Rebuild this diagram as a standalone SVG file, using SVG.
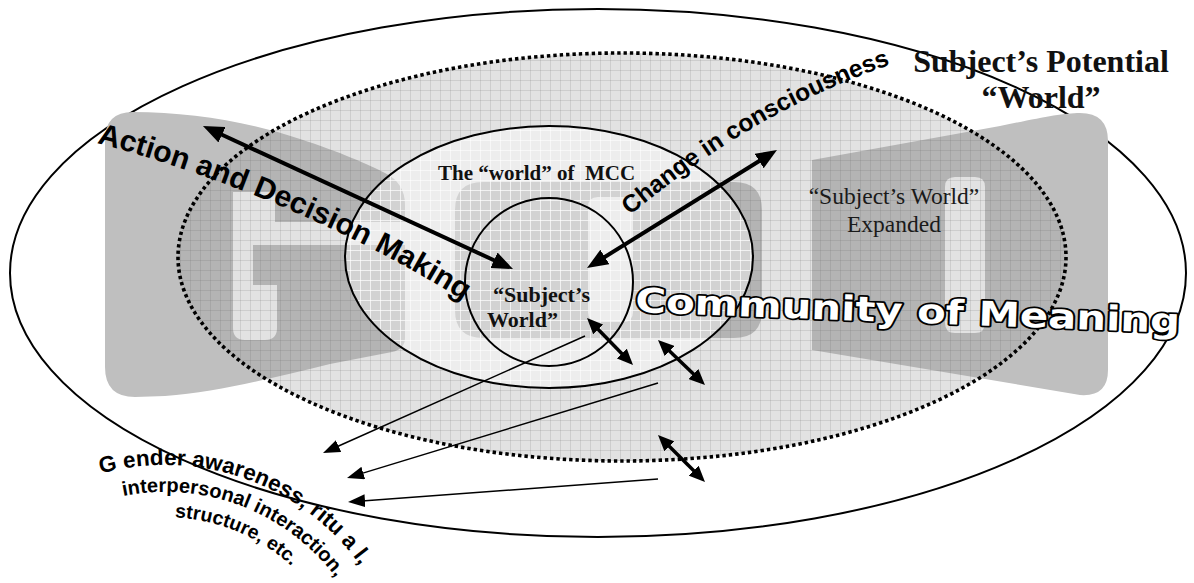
<svg xmlns="http://www.w3.org/2000/svg" width="1194" height="583" viewBox="0 0 1194 583">
  <style>
    .ring { fill: none; stroke: #000; stroke-width: 2; }
    .dots { fill: none; stroke: #000; stroke-width: 3.6; stroke-dasharray: 3.4 3; }
    .serifB { font-family: "Liberation Serif", "Times New Roman", serif; font-weight: bold; fill: #111; }
    .serif { font-family: "Liberation Serif", "Times New Roman", serif; fill: #1a1a1a; }
    .sansB { font-family: "Liberation Sans", Arial, sans-serif; font-weight: bold; fill: #000; }
    .thick { stroke: #000; stroke-width: 4; fill: none; }
    .mid { stroke: #000; stroke-width: 3.5; fill: none; }
    .thin { stroke: #000; stroke-width: 1.5; fill: none; }
    .letters { fill: #bfbfbf; fill-rule: evenodd; }
  </style>
  <defs>
    <pattern id="grid" width="10" height="10" patternUnits="userSpaceOnUse">
      <path d="M0.5,0 V10 M0,0.5 H10" stroke="rgba(90,90,90,0.15)" stroke-width="1" fill="none"/>
    </pattern>
    <pattern id="gridLight" width="10" height="10" patternUnits="userSpaceOnUse">
      <path d="M0.5,0 V10 M0,0.5 H10" stroke="rgba(255,255,255,0.75)" stroke-width="1" fill="none"/>
    </pattern>
    <marker id="headBig" viewBox="0 0 21 17" refX="3" refY="8.5" markerWidth="21" markerHeight="17" markerUnits="userSpaceOnUse" orient="auto-start-reverse">
      <path d="M0,0 L21,8.5 L0,17 Z" fill="#000"/>
    </marker>
    <marker id="headMid" viewBox="0 0 16 14" refX="3" refY="7" markerWidth="16" markerHeight="14" markerUnits="userSpaceOnUse" orient="auto-start-reverse">
      <path d="M0,0 L16,7 L0,14 Z" fill="#000"/>
    </marker>
    <marker id="headThin" viewBox="0 0 17 13" refX="3" refY="6.5" markerWidth="17" markerHeight="13" markerUnits="userSpaceOnUse" orient="auto-start-reverse">
      <path d="M0,0 L17,6.5 L0,13 Z" fill="#000"/>
    </marker>
    <path id="pathAction" d="M97,143 C175,163 330,215 470,305"/>
    <path id="pathChange" d="M630,215 C680,175 760,110 892,64"/>
    <path id="pathG1" d="M100.9,473.7 A240,240 0 0 1 390.5,622.9"/>
    <path id="pathG2" d="M123.2,496 A213,213 0 0 1 374.8,668"/>
    <path id="pathG3" d="M174.8,517.3 A188,188 0 0 1 350.1,672.4"/>
  </defs>

  <rect width="1194" height="583" fill="#fff"/>

  <!-- outermost world -->
  <g id="potential-world">
    <ellipse cx="598" cy="273" rx="588" ry="264" fill="#fff" stroke="#000" stroke-width="2"/>
  </g>

  <!-- large grey backdrop lettering -->
  <g id="god-backdrop" class="letters">
    <path d="M133,112 C190,112 250,122 300,139 C340,152 370,165 385,173 Q405,183 405,205 L405,338 Q405,349 392,352 L330,364 C280,376 220,392 165,396 L135,397 Q105,397 105,367 L105,140 Q105,112 133,112 Z
             M233,192 L275,192 L275,222 L405,222 L405,245 L253,245 L253,285 L277,285 L277,328 Q277,340 265,340 L245,340 Q233,340 233,328 Z"/>
    <path d="M483,182 L734,182 Q762,182 762,210 L762,310 Q762,338 734,338 L483,338 Q455,338 455,310 L455,210 Q455,182 483,182 Z
             M598,197 L623,197 Q633,197 633,207 L633,312 Q633,322 623,322 L598,322 Q588,322 588,312 L588,207 Q588,197 598,197 Z"/>
    <path d="M812,160 L1000,126 C1040,118 1062,113 1080,113 Q1108,113 1108,141 L1108,370 Q1108,397 1080,395 L812,350 Z
             M955,177 L975,177 Q985,177 985,187 L985,323 Q985,333 975,333 L955,333 Q945,333 945,323 L945,187 Q945,177 955,177 Z"/>
  </g>

  <!-- community of meaning -->
  <g id="community">
    <ellipse cx="622" cy="257" rx="444" ry="204" fill="rgba(156,156,156,0.29)"/>
    <ellipse cx="622" cy="257" rx="444" ry="204" fill="url(#grid)"/>
    <ellipse class="dots" cx="622" cy="257" rx="444" ry="204"/>
    <text class="serif" font-size="23.5" text-anchor="middle"><tspan x="894" y="204">“Subject’s World”</tspan><tspan x="894" y="232">Expanded</tspan></text>
  </g>

  <!-- world of MCC -->
  <g id="mcc-world">
    <ellipse cx="549" cy="257" rx="204" ry="131" fill="rgba(255,255,255,0.4)"/>
    <ellipse cx="549" cy="257" rx="204" ry="131" fill="url(#gridLight)"/>
    <ellipse class="ring" cx="549" cy="257" rx="204" ry="131"/>
    <text class="serifB" font-size="21" x="438" y="180" style="white-space:pre">The “world” of  MCC</text>
  </g>

  <!-- subject's world -->
  <g id="subject-world">
    <circle class="ring" cx="549" cy="282" r="84"/>
    <text class="serifB" font-size="22"><tspan x="493" y="302">“Subject’s</tspan><tspan x="487" y="327">World”</tspan></text>
  </g>

  <g id="potential-label">
    <text class="serifB" font-size="32" text-anchor="middle"><tspan x="1041" y="72">Subject’s Potential</tspan><tspan x="1041" y="108">“World”</tspan></text>
  </g>

  <g id="community-label">
    <text x="635" y="312" transform="rotate(2.2 635 312)" textLength="545" lengthAdjust="spacingAndGlyphs"
          font-family="'DejaVu Sans', Verdana, sans-serif" font-weight="bold" font-size="34"
          fill="#fff" stroke="#000" stroke-width="3.5" stroke-linejoin="round" paint-order="stroke">Community of Meaning</text>
  </g>

  <!-- everyday practice -->
  <g id="practice">
    <text class="sansB" font-size="22.5"><textPath href="#pathG1">G ender awareness, ritu a l,</textPath></text>
    <text class="sansB" font-size="20"><textPath href="#pathG2">interpersonal interaction,</textPath></text>
    <text class="sansB" font-size="19.5"><textPath href="#pathG3">structure, etc.</textPath></text>
  </g>

  <!-- connectors -->
  <g id="connectors">
    <line class="thick" x1="219.3" y1="133.5" x2="496.7" y2="261.5" marker-start="url(#headBig)" marker-end="url(#headBig)"/>
    <line class="thick" x1="602.3" y1="258.5" x2="761.7" y2="159.5" marker-start="url(#headBig)" marker-end="url(#headBig)"/>
    <line class="mid" x1="596.1" y1="327.3" x2="623.9" y2="355.7" marker-start="url(#headMid)" marker-end="url(#headMid)"/>
    <line class="mid" x1="667.4" y1="349" x2="695.6" y2="376" marker-start="url(#headMid)" marker-end="url(#headMid)"/>
    <line class="mid" x1="667.2" y1="444.2" x2="695.8" y2="472.8" marker-start="url(#headMid)" marker-end="url(#headMid)"/>
    <line class="thin" x1="585" y1="336" x2="335.8" y2="447.3" marker-end="url(#headThin)"/>
    <line class="thin" x1="658" y1="383" x2="360.4" y2="473.9" marker-end="url(#headThin)"/>
    <line class="thin" x1="658" y1="479" x2="362" y2="501" marker-end="url(#headThin)"/>
    <text class="sansB" font-size="30"><textPath href="#pathAction">Action and Decision Making</textPath></text>
    <text class="sansB" font-size="24.5"><textPath href="#pathChange">Change in consciousness</textPath></text>
  </g>
</svg>
